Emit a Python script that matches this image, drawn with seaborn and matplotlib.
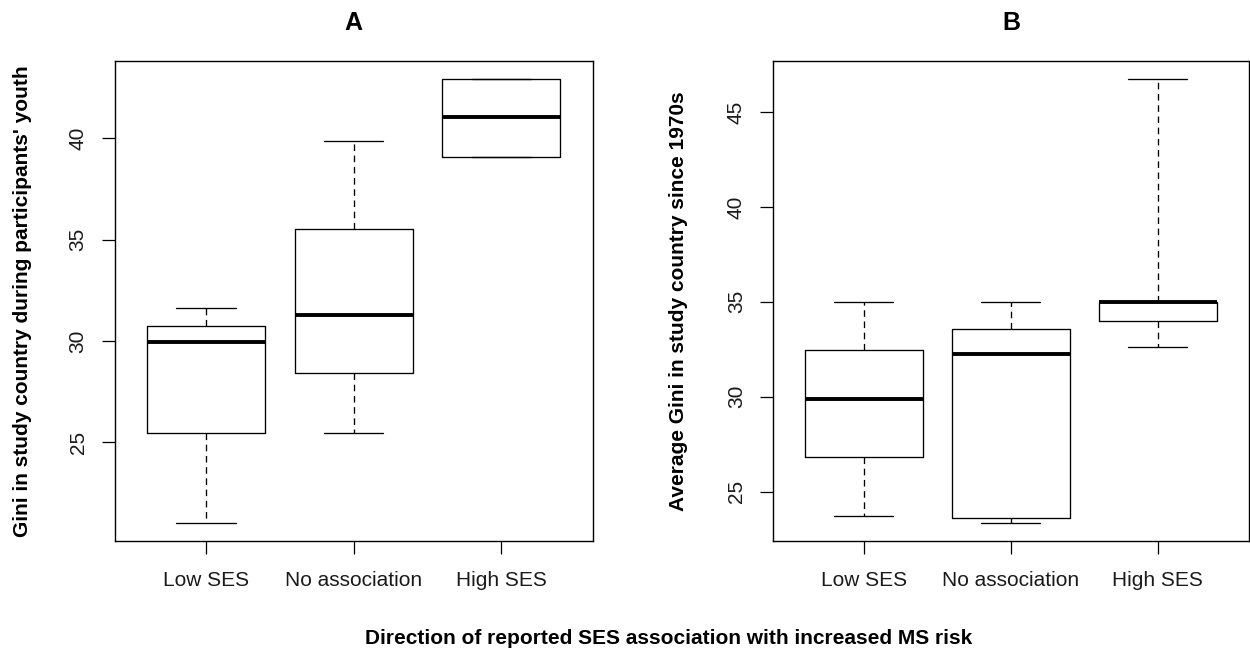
import matplotlib.pyplot as plt
import numpy as np
import pandas as pd
import seaborn as sns

sns.set_style("white")
plt.rcParams["font.family"] = ["Liberation Sans", "DejaVu Sans"]
plt.rcParams["text.color"] = "black"
plt.rcParams["axes.labelcolor"] = "black"
plt.rcParams["axes.edgecolor"] = "black"

groups = ["Low SES", "No association", "High SES"]

# five-number summaries (min, q1, median, q3, max)
youth_low = [20.99, 25.45, 29.95, 30.74, 31.60]
youth_none = [25.45, 28.39, 31.27, 35.55, 39.87]
youth_high = [39.08, 39.08, 41.05, 42.95, 42.95]

avg_low = [23.73, 26.84, 29.88, 32.46, 35.00]
avg_none = [23.33, 23.60, 32.25, 33.59, 35.00]
avg_high = [32.60, 34.00, 35.00, 35.00, 46.76]

yticks_a = [25, 30, 35, 40]
yticks_b = [25, 30, 35, 40, 45]


def long_df(a, b, c):
    return pd.DataFrame({"group": np.repeat(groups, 5),
                         "gini": np.concatenate([a, b, c])})


panels = [
    ("A", long_df(youth_low, youth_none, youth_high), yticks_a,
     "Gini in study country during participants' youth", -0.1925),
    ("B", long_df(avg_low, avg_none, avg_high), yticks_b,
     "Average Gini in study country since 1970s", -0.1988),
]

fig = plt.figure(figsize=(12.5, 6.53), dpi=100)
axes = [fig.add_axes([0.0916, 0.1715, 0.3826, 0.7351]),
        fig.add_axes([0.6182, 0.1715, 0.3810, 0.7351])]

for ax, (title, df, yt, ylab, lx) in zip(axes, panels):
    sns.boxplot(data=df, x="group", y="gini", order=groups, ax=ax,
                width=0.8, whis=(0, 100), fill=False, color="black",
                linewidth=0.95, showfliers=False,
                medianprops=dict(linewidth=2.8, solid_capstyle="butt"),
                whiskerprops=dict(linestyle=(0, (5, 3.5))))
    lo, hi = df["gini"].min(), df["gini"].max()
    pad = (hi - lo) * 0.04
    ax.set_ylim(lo - pad, hi + pad)
    ax.set_xlim(-0.62, 2.62)
    ax.set_yticks(yt)
    ax.tick_params(axis="both", bottom=True, left=True, direction="out",
                   length=9.4, width=0.9, color="black", labelsize=15,
                   labelcolor="#1a1a1a", pad=10)
    ax.tick_params(axis="x", pad=12.5)
    ax.tick_params(axis="y", labelrotation=90)
    for lab in ax.get_yticklabels():
        lab.set_va("center")
    for s in ax.spines.values():
        s.set_linewidth(1.0)
        s.set_visible(True)
    ax.set_xlabel("")
    ax.set_ylabel(ylab, fontsize=15, fontweight="bold", va="center")
    ax.yaxis.set_label_coords(lx, 0.5)
    ax.set_title(title, fontsize=18, fontweight="bold", pad=22)

fig.text(0.535, 0.022, "Direction of reported SES association with increased MS risk",
         ha="center", va="center", fontsize=15, fontweight="bold")

fig.savefig("out.png", dpi=100)
